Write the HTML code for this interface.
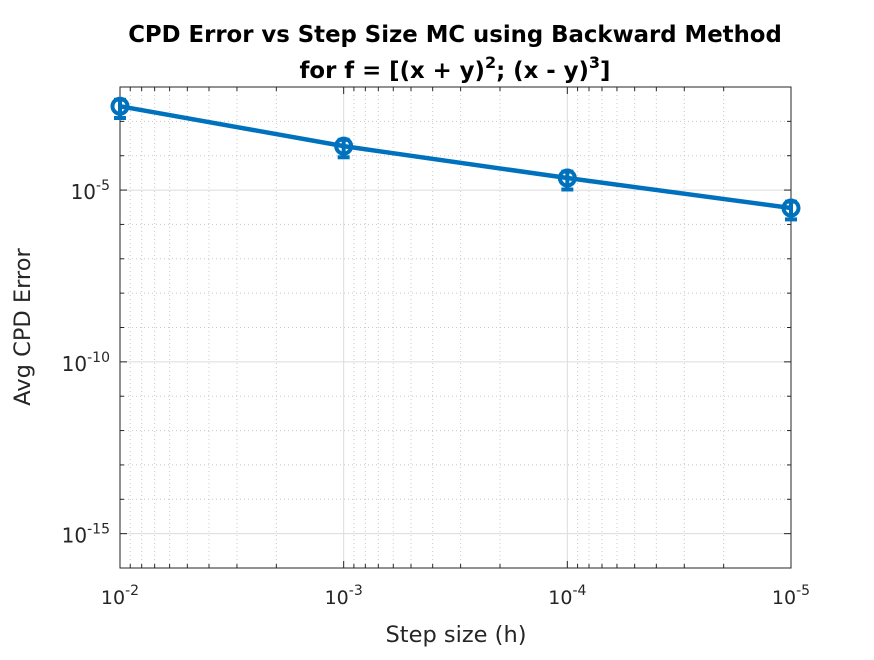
<!DOCTYPE html>
<html><head><meta charset="utf-8"><style>
html,body{margin:0;padding:0;background:#fff;}
svg text{font-family:"DejaVu Sans","Liberation Sans",sans-serif;}
</style></head><body>
<svg id="chart" width="874" height="655" xmlns="http://www.w3.org/2000/svg">
<rect width="874" height="655" fill="#fff"/>
<g id="grid"></g>
<g id="axes"></g>
<g id="series"></g>
<text x="455" y="42" font-size="22.8" font-weight="bold" text-anchor="middle">CPD Error vs Step Size MC using Backward Method</text>
<text x="455" y="78" font-size="22.8" font-weight="bold" text-anchor="middle">for f = [(x + y)<tspan font-size="16" dy="-10">2</tspan><tspan dy="10">; (x - y)</tspan><tspan font-size="16" dy="-10">3</tspan><tspan dy="10">]</tspan></text>
<text x="456" y="642" font-size="22.5" text-anchor="middle" fill="#262626">Step size (h)</text>
<text x="0" y="0" font-size="22.5" text-anchor="middle" fill="#262626" transform="translate(30,327) rotate(-90)">Avg CPD Error</text>
</svg>
<script>
const stepSizes=[1e-2,1e-3,1e-4,1e-5];
const errors=[2.75e-3,1.9e-4,2.24e-5,3.0e-6];
const errBars=[1.5e-3,1.0e-4,1.2e-5,1.6e-6];
const xTickExps=[-2,-3,-4,-5];
const yTickExps=[-5,-10,-15];
const L=120,R=791,T=87,B=568;
const xMin=-2,xMax=-5,yMin=-16,yMax=-2;
function xs(v){return L+(Math.log10(v)-xMin)/(xMax-xMin)*(R-L);}
function ys(v){return B-(Math.log10(v)-yMin)/(yMax-yMin)*(B-T);}
const NS="http://www.w3.org/2000/svg";
function mk(tag,attrs,parent){const e=document.createElementNS(NS,tag);for(const k in attrs)e.setAttribute(k,attrs[k]);parent.appendChild(e);return e;}
const grid=document.getElementById('grid'),axes=document.getElementById('axes'),ser=document.getElementById('series');
for(let d=-5;d<-2;d++){for(let m=2;m<=9;m++){const x=xs(m*Math.pow(10,d));
const g=mk('line',{x1:x,x2:x,y1:T,y2:B,stroke:'#c8c8c8','stroke-dasharray':'1,3','stroke-width':1},grid);


mk('line',{x1:x,x2:x,y1:B,y2:B-4,stroke:'#262626'},axes);mk('line',{x1:x,x2:x,y1:T,y2:T+4,stroke:'#262626'},axes);}}
for(let e=yMin;e<=yMax;e++){const y=ys(Math.pow(10,e));const major=yTickExps.includes(e);
const g=mk('line',{x1:L,x2:R,y1:y,y2:y,stroke:major?'#dcdcdc':'#c8c8c8','stroke-dasharray':major?'none':'1,3','stroke-width':1},grid);


mk('line',{x1:L,x2:L+(major?7:4),y1:y,y2:y,stroke:'#262626'},axes);mk('line',{x1:R,x2:R-(major?7:4),y1:y,y2:y,stroke:'#262626'},axes);}
xTickExps.forEach(e=>{const x=xs(Math.pow(10,e));
const g=mk('line',{x1:x,x2:x,y1:T,y2:B,stroke:'#dcdcdc'},grid);


mk('line',{x1:x,x2:x,y1:B,y2:B-7,stroke:'#262626'},axes);mk('line',{x1:x,x2:x,y1:T,y2:T+7,stroke:'#262626'},axes);
const t=mk('text',{x:x,y:B+36,'font-size':19,'text-anchor':'middle',fill:'#262626'},axes);


t.innerHTML='10<tspan font-size="14" dy="-9">'+e+'</tspan>';});
yTickExps.forEach(e=>{const y=ys(Math.pow(10,e));
const t=mk('text',{x:L-10,y:y+9,'font-size':20,'text-anchor':'end',fill:'#262626'},axes);


t.innerHTML='10<tspan font-size="14" dy="-9">'+e+'</tspan>';});
const box=mk('rect',{x:L,y:T,width:R-L,height:B-T,fill:'none',stroke:'#262626','stroke-width':1},axes);


const pts=stepSizes.map((s,i)=>xs(s)+','+ys(errors[i])).join(' ');
const line=mk('polyline',{points:pts,fill:'none',stroke:'#0072BD','stroke-width':4.5},ser);


stepSizes.forEach((s,i)=>{const x=xs(s),y0=ys(errors[i]),yl=ys(errors[i]-errBars[i]),yh=ys(errors[i]+errBars[i]);
const g=mk('g',{stroke:'#0072BD','stroke-width':4,fill:'none'},ser);


mk('line',{x1:x,x2:x,y1:yh,y2:yl},g);
mk('line',{x1:x-6,x2:x+6,y1:yh,y2:yh},g);
mk('line',{x1:x-6,x2:x+6,y1:yl,y2:yl},g);
mk('circle',{cx:x,cy:y0,r:7.5},g);});
</script>
</body></html>
